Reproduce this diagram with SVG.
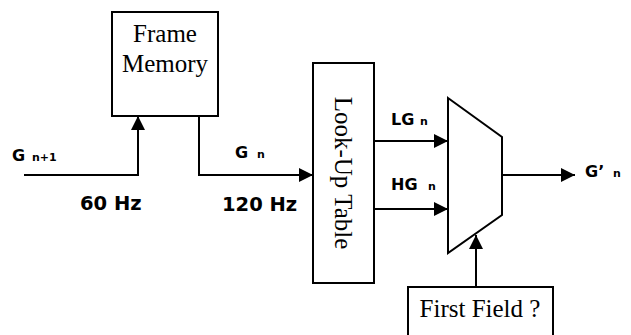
<svg xmlns="http://www.w3.org/2000/svg" width="631" height="335" viewBox="0 0 631 335">
<style>
.box{fill:#fff;stroke:#000;stroke-width:2}
.ln{fill:none;stroke:#000;stroke-width:2}
.ser{font-family:"Liberation Serif","Times New Roman",serif;font-size:25px;fill:#000}
.lab{font-family:"DejaVu Sans",Verdana,sans-serif;font-weight:bold;font-size:16px;fill:#000}
.sub{font-size:11px}
.hz{font-family:"DejaVu Sans",Verdana,sans-serif;font-weight:bold;font-size:19.5px;fill:#000}
</style>
<defs>
<marker id="ah" markerWidth="14" markerHeight="14" viewBox="0 0 14 14" refX="14" refY="7" orient="auto" markerUnits="userSpaceOnUse">
<path d="M0,0 L14,7 L0,14 Z" fill="#000"/>
</marker>
</defs>
<g id="frame-memory">
<rect class="box" x="112" y="12" width="106" height="104"/>
<text class="ser" x="165" y="42" text-anchor="middle">Frame</text>
<text class="ser" x="165" y="72" text-anchor="middle">Memory</text>
</g>
<g id="lut">
<rect class="box" x="313" y="63" width="61" height="220"/>
<text class="ser" transform="translate(335,173) rotate(90)" text-anchor="middle">Look-Up Table</text>
</g>
<g id="mux">
<path class="box" d="M448,98 L502,137 L502,215 L448,253 Z"/>
</g>
<g id="first-field">
<rect class="box" x="408" y="287" width="145" height="60"/>
<text class="ser" x="480" y="317" text-anchor="middle">First Field ?</text>
</g>
<g id="connectors">
<path class="ln" d="M24,175 L138,175 L138,116" marker-end="url(#ah)"/>
<path class="ln" d="M199,116 L199,175 L313,175" marker-end="url(#ah)"/>
<path class="ln" d="M374,141 L448,141" marker-end="url(#ah)"/>
<path class="ln" d="M374,209 L448,209" marker-end="url(#ah)"/>
<path class="ln" d="M502,175 L575,175" marker-end="url(#ah)"/>
<path class="ln" d="M476,287 L476,235" marker-end="url(#ah)"/>
</g>
<g id="labels">
<text class="lab" x="12" y="161">G<tspan class="sub" x="32">n+1</tspan></text>
<text class="hz" x="80" y="210">60 Hz</text>
<text class="lab" x="235" y="158">G<tspan class="sub" x="257">n</tspan></text>
<text class="hz" x="222" y="211">120 Hz</text>
<text class="lab" x="391" y="125">LG<tspan class="sub" x="420">n</tspan></text>
<text class="lab" x="391" y="190">HG<tspan class="sub" x="428">n</tspan></text>
<text class="lab" x="585" y="177">G’<tspan class="sub" x="613">n</tspan></text>
</g>
</svg>
